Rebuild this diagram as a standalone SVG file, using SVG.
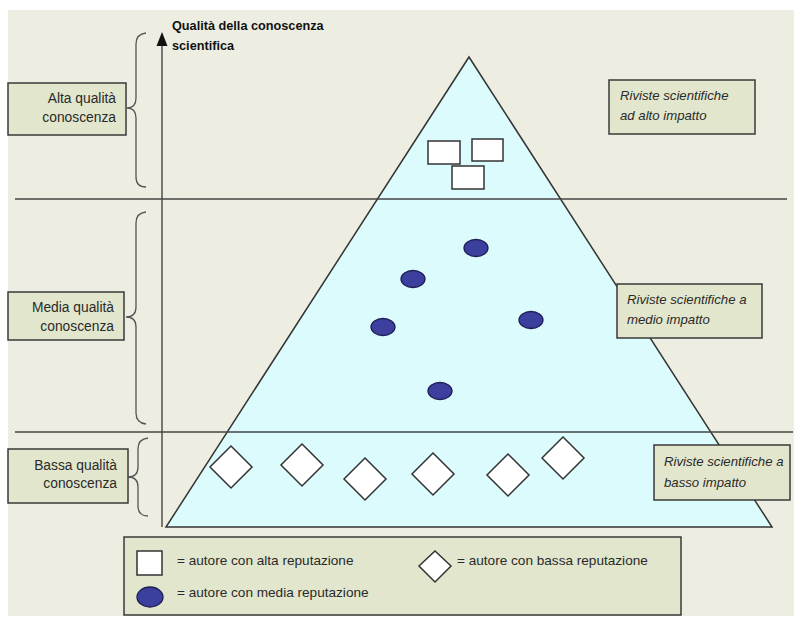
<svg xmlns="http://www.w3.org/2000/svg" width="794" height="620" viewBox="0 0 794 620">
  <defs>
    <style>
      .lbl { font-family: "Liberation Sans", Arial, sans-serif; font-size: 13.8px; fill: #2a2a2a; }
      .leg { font-family: "Liberation Sans", Arial, sans-serif; font-size: 13.6px; fill: #2a2a2a; }
      .it { font-family: "Liberation Sans", Arial, sans-serif; font-size: 13.2px; font-style: italic; fill: #2a2a2a; }
      .ttl { font-family: "Liberation Sans", Arial, sans-serif; font-size: 12.7px; font-weight: bold; fill: #111; }
      .box { fill: #e1e6cc; stroke: #3a3a3a; stroke-width: 1.5; }
      .line { stroke: #444; stroke-width: 1.4; fill: none; }
      .brace { stroke: #555; stroke-width: 1.3; fill: none; }
      .sq { fill: #ffffff; stroke: #333; stroke-width: 1.5; }
      .dot { fill: #3d3f9f; stroke: #1d1f55; stroke-width: 1.3; }
      .dia { fill: #ffffff; stroke: #333; stroke-width: 1.5; }
    </style>
  </defs>

  <!-- background panel -->
  <rect x="0" y="0" width="794" height="620" fill="#ffffff"/>
  <rect x="8" y="10" width="786" height="606" fill="#edeee1"/>

  <!-- pyramid -->
  <g id="pyramid">
    <polygon points="469,57 772,527 166,527" fill="#dcfbfd" stroke="#333" stroke-width="1.5"/>
  </g>

  <!-- connectors: axis, band separators, braces -->
  <g id="connectors">
    <line class="line" x1="162" y1="527" x2="162" y2="44"/>
    <polygon points="162,32 167.5,46 156.5,46" fill="#111"/>
    <line class="line" x1="15" y1="199" x2="787" y2="199"/>
    <line class="line" x1="15" y1="432" x2="793" y2="432"/>
    <path class="brace" d="M146,33 Q136,34 136,44 L136,98 Q136,108 127,108 Q136,108 136,118 L136,177 Q136,187 146,187"/>
    <path class="brace" d="M146,212 Q136,213 136,223 L136,307 Q136,317 126,317 Q136,317 136,327 L136,413 Q136,423 146,424"/>
    <path class="brace" d="M148,438 Q138,439 138,449 L138,467 Q138,477 128,477 Q138,477 138,487 L138,506 Q138,516 148,516"/>
  </g>

  <!-- axis title -->
  <g id="axis-title">
    <text class="ttl" x="172" y="30">Qualità della conoscenza</text>
    <text class="ttl" x="172" y="50">scientifica</text>
  </g>

  <!-- left level labels -->
  <g id="level-high">
    <rect class="box" x="8" y="83" width="118" height="52"/>
    <text class="lbl" x="116" y="103" text-anchor="end">Alta qualità</text>
    <text class="lbl" x="116" y="122" text-anchor="end">conoscenza</text>
  </g>
  <g id="level-medium">
    <rect class="box" x="8" y="292" width="116" height="48"/>
    <text class="lbl" x="114" y="312" text-anchor="end">Media qualità</text>
    <text class="lbl" x="114" y="331" text-anchor="end">conoscenza</text>
  </g>
  <g id="level-low">
    <rect class="box" x="8" y="449" width="120" height="54"/>
    <text class="lbl" x="117" y="470" text-anchor="end">Bassa qualità</text>
    <text class="lbl" x="117" y="488" text-anchor="end">conoscenza</text>
  </g>

  <!-- right journal labels -->
  <g id="journals-high">
    <rect class="box" x="609" y="80" width="146" height="54"/>
    <text class="it" x="620" y="100">Riviste scientifiche</text>
    <text class="it" x="620" y="120">ad alto impatto</text>
  </g>
  <g id="journals-medium">
    <rect class="box" x="617" y="284" width="145" height="54"/>
    <text class="it" x="627" y="304">Riviste scientifiche a</text>
    <text class="it" x="627" y="324">medio impatto</text>
  </g>
  <g id="journals-low">
    <rect class="box" x="654" y="445" width="136" height="55"/>
    <text class="it" x="664" y="466">Riviste scientifiche a</text>
    <text class="it" x="664" y="487">basso impatto</text>
  </g>

  <!-- high reputation authors -->
  <g id="authors-high">
    <rect class="sq" x="428" y="141" width="32" height="23"/>
    <rect class="sq" x="472" y="139" width="31" height="22"/>
    <rect class="sq" x="452" y="166" width="32" height="23"/>
  </g>

  <!-- medium reputation authors -->
  <g id="authors-medium">
    <ellipse class="dot" cx="476" cy="248" rx="12" ry="8.5"/>
    <ellipse class="dot" cx="413" cy="279" rx="12" ry="8.5"/>
    <ellipse class="dot" cx="531" cy="320" rx="12" ry="8.5"/>
    <ellipse class="dot" cx="383" cy="327" rx="12" ry="8.5"/>
    <ellipse class="dot" cx="440" cy="391" rx="12" ry="8.5"/>
  </g>

  <!-- low reputation authors -->
  <g id="authors-low">
    <polygon class="dia" points="231,446 252,467 231,488 210,467"/>
    <polygon class="dia" points="302,444 323,465 302,486 281,465"/>
    <polygon class="dia" points="365,458 386,479 365,500 344,479"/>
    <polygon class="dia" points="433,453 454,474 433,495 412,474"/>
    <polygon class="dia" points="508,454 529,475 508,496 487,475"/>
    <polygon class="dia" points="563,437 584,458 563,479 542,458"/>
  </g>

  <!-- legend -->
  <g id="legend">
    <rect class="box" x="124" y="537" width="557" height="78"/>
    <rect class="sq" x="137" y="551" width="25" height="24"/>
    <text class="leg" x="177" y="565">= autore con alta reputazione</text>
    <ellipse class="dot" cx="150" cy="597" rx="13" ry="10"/>
    <text class="leg" x="177" y="597">= autore con media reputazione</text>
    <polygon class="dia" points="435,551 451,566 435,582 419,566"/>
    <text class="leg" x="457" y="565">= autore con bassa reputazione</text>
  </g>
</svg>
